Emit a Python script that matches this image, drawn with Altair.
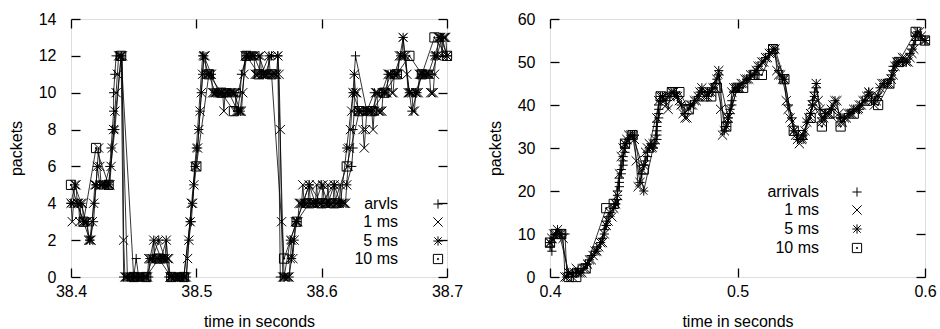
import altair as alt
import pandas as pd

FONT = "Liberation Sans"
FS = 16
TICK = 9

# ---------------- left panel data (time = 38.4 s + offset) ----------------
L_START = 38.4
left_1ms = [
    4, 3, 4, 5, 5, 4, 4, 3, 4, 4, 3,
    3, 3, 3, 2, 2, 2,
    3, 4, 5,
    5, 6, 7, 6, 5,
    5, 5, 5, 5, 5, 5, 5, 6, 7,
    8, 9, 10, 11, 12, 12, 12, 12,
    2,
    0, 0, 0, 0, 0, 0, 0, 0, 0, 0, 0, 0, 0, 0, 0, 0, 0, 0, 0,
    1, 1, 1, 1, 2, 1, 1, 1, 1, 1, 1, 1, 1, 1, 2, 1, 1,
    0, 0, 0, 0, 0, 0, 0, 0, 0, 0, 0, 0, 0, 0,
    1, 2, 3, 4, 4, 5, 6, 6, 7, 8, 9, 10, 11, 12, 12,
    11, 11, 11, 11, 11,
    10, 10, 10, 10, 10, 10, 10, 10, 10, 9, 10, 10, 10, 10, 10, 10, 10, 10, 10,
    9, 9, 9, 9, 9,
    10, 11,
    12, 12, 12, 12, 12, 12, 12, 12,
    11, 11, 11, 11, 12, 11, 11, 11, 11, 11, 11, 12, 11, 11, 11, 11, 11, 11, 12,
    11, 8, 3,
    0, 0, 0, 0, 0, 0,
    1, 2, 1, 2,
    3, 3, 3,
    4, 4, 4, 5, 4, 4, 4, 4, 5, 4, 4, 4, 4, 4, 5, 4, 4, 4, 4, 5,
    4, 4, 4, 5, 4, 4, 4, 4, 5, 4, 4, 4, 4, 5, 4, 4, 4, 4,
    5, 6, 7, 8, 9, 10, 11, 10, 10, 9, 9,
    9, 9, 8, 7, 8, 9, 9, 9, 9, 9, 8,
    9, 10, 10, 9,
    9, 9, 9, 10, 10,
    10, 10, 11, 11, 11, 10,
    10, 11, 11, 11, 11, 12,
    12, 12, 13, 12,
    12, 11, 10, 10,
    10, 10, 9, 9, 10, 10,
    10, 11, 11, 11, 11, 11, 11,
    11, 11, 11, 10, 10, 10, 11,
    12, 12, 13, 13, 13, 12,
    13, 13, 13, 12,
]
left_5ms = [4, 4, 3, 2, 5, 5, 5, 8, 12, 0,
            0, 0, 0, 1, 2, 1, 0, 0, 0, 3,
            7, 12, 11, 10, 10, 10, 10, 9, 12, 12,
            12, 11, 12, 12, 0, 2, 3, 4, 5, 4,
            5, 4, 5, 4, 7, 10, 9, 9, 9, 10,
            10, 11, 11, 13, 10, 10, 11, 11, 12, 13,
            12]
left_10ms = [5, 3, 7, 5, 12, 0, 0, 1, 0, 0,
             6, 11, 10, 9, 12, 11, 11, 1, 3, 4,
             4, 4, 6, 9, 9, 10, 11, 12, 11, 13,
             12]
# arrivals: (milliseconds after 38.4 s, packets)
left_arrivals = [
    (0, 4), (3, 5), (8, 4), (12, 3), (15, 2), (18, 3), (19, 4), (20, 5), (21, 6),
    (23, 5), (27, 5), (31, 6), (32, 7), (33, 8), (34, 9), (34, 10), (35, 11),
    (36, 12), (40, 12), (42, 0), (50, 0),
    (52, 1), (54, 0), (62, 0), (63, 1), (66, 2), (72, 1), (76, 2), (78, 0), (92, 0),
    (94, 2), (96, 3), (97, 4), (98, 5), (99, 6), (101, 7), (102, 8), (103, 9),
    (104, 10), (105, 11), (106, 12),
    (112, 11), (118, 10), (126, 10), (133, 9), (135, 10), (136, 11), (140, 12),
    (146, 12), (152, 11), (158, 12), (165, 12), (167, 0), (174, 0),
    (176, 1), (178, 2), (180, 3), (185, 4), (190, 5), (200, 4), (210, 5), (220, 5),
    (224, 6), (225, 7), (225, 8), (226, 9), (226, 10), (226, 11), (227, 12),
    (236, 9), (242, 10), (248, 10), (253, 11), (258, 11), (263, 12), (266, 12),
    (272, 9), (276, 10), (280, 11), (288, 11), (292, 12), (296, 13), (300, 12),
]

# ---------------- right panel data (time = 0.4 s + offset) ----------------
R_START = 0.4
right_1ms = [
    8, 9, 10, 10, 11, 10, 10, 9,
    0, 0, 1, 1, 0, 1, 2, 1, 1, 1,
    2, 2, 3, 4, 4, 5, 6, 6, 7, 8, 8,
    10, 12, 13, 15, 14,
    16, 17, 19, 24,
    28, 30, 31,
    32, 33, 33, 33, 32,
    27, 21, 22, 25, 26,
    29, 30, 31, 30, 31, 32,
    37, 41,
    42, 42, 41, 40, 39,
    42, 43, 43, 42, 42, 41, 40,
    38, 37, 37,
    39, 40, 40, 41, 41,
    42, 43, 44, 43, 42, 42,
    43, 43, 44, 44,
    46, 48,
    39, 33, 34, 35, 37, 39,
    43, 44, 44,
    44, 44, 45, 45, 46,
    46, 46, 47, 47, 47,
    48, 49, 49, 50,
    50, 51, 51, 52, 52,
    53, 53,
    48, 47, 47, 46, 46,
    41, 39, 37, 36, 34, 33,
    32, 31, 32, 33, 34, 36,
    37, 38, 40, 42, 45,
    41, 39, 36,
    37, 38, 38, 38,
    39, 40, 41,
    41, 38, 36,
    36, 37, 37,
    38, 38, 38, 39,
    39, 39, 40,
    40, 41, 41,
    42, 43, 42,
    41, 40, 41, 42,
    44, 45, 45, 45, 45,
    45, 46, 47, 49,
    50, 50, 50, 51,
    51, 50, 50,
    51, 52, 53,
    56, 57, 57,
    56, 55, 55,
]
right_5ms = [8, 10, 1, 1, 3, 6, 12, 17, 31, 33,
             20, 30, 42, 43, 40, 40, 43, 43, 47, 37,
             44, 46, 48, 51, 53, 46, 34, 32, 40, 37,
             39, 37, 38, 39, 43, 42, 45, 50, 50, 56,
             55]
# (milliseconds after 0.4 s, packets)
right_10ms = [
    (0, 8), (3, 10), (6, 10), (10, 0), (14, 0), (19, 2), (30, 16), (34, 17),
    (40, 31), (44, 33), (50, 25), (59, 42), (65, 43), (69, 43), (74, 39),
    (82, 42), (86, 42), (89, 44), (94, 35), (100, 44), (103, 44), (109, 47),
    (113, 47), (119, 53), (125, 46), (130, 34), (134, 33), (139, 37), (145, 35),
    (149, 38), (155, 35), (162, 38), (169, 41), (175, 40), (181, 45), (186, 50),
    (195, 57), (200, 55),
]
right_arrivals = [
    (0, 7), (1, 6), (1, 8), (2, 9), (3, 10), (4, 11), (6, 10), (8, 10), (9, 0),
    (12, 1), (14, 1), (15, 2), (16, 1),
    (18, 2), (19, 3), (21, 4), (22, 5), (24, 6), (25, 7), (27, 8), (28, 9),
    (29, 10), (29, 11), (30, 12), (30, 13), (31, 14), (32, 15),
    (34, 16), (35, 17), (36, 18), (36, 19), (36, 20), (37, 21), (37, 22), (37, 23),
    (38, 24), (38, 25), (39, 26), (39, 27), (39, 28), (40, 29), (40, 30),
    (41, 31), (42, 32), (43, 33), (44, 33),
    (48, 22), (49, 24), (50, 26), (51, 27), (52, 28), (52, 29), (53, 30), (54, 31),
    (55, 30), (56, 31),
    (57, 32), (57, 33), (57, 34), (57, 35), (57, 36), (58, 37), (58, 38), (58, 39),
    (58, 40), (59, 41), (59, 42),
    (62, 41), (64, 42), (66, 43), (68, 42), (72, 38), (75, 40), (77, 41), (79, 42),
    (81, 44), (84, 43), (86, 44), (88, 45), (89, 46), (90, 48),
    (93, 34), (94, 35), (95, 36), (95, 37), (96, 38), (96, 39), (97, 40), (97, 41),
    (98, 43), (99, 44), (101, 44), (103, 45), (105, 46), (107, 47), (109, 47),
    (111, 49), (113, 50), (115, 51), (117, 52), (119, 53),
    (122, 48), (124, 46), (127, 40), (129, 37), (132, 32), (135, 33), (137, 36),
    (139, 38), (140, 40), (140, 41), (141, 42), (141, 43), (142, 44), (142, 45),
    (144, 39), (147, 38), (150, 39), (152, 41), (155, 37), (157, 37), (159, 38),
    (162, 39), (165, 40), (168, 41), (170, 43), (173, 41), (176, 44), (178, 45),
    (180, 45), (182, 46), (182, 47), (183, 48), (183, 49), (184, 49), (186, 50),
    (188, 50), (190, 50), (192, 52), (193, 53), (194, 54), (195, 55), (195, 56),
    (196, 57), (198, 56), (200, 55),
]

# ---------------- marker shapes (gnuplot style) ----------------
PLUS = "M-1,0L1,0M0,-1L0,1"
CROSS = "M-1,-1L1,1M-1,1L1,-1"
STAR = "M-1,0L1,0M0,-1L0,1M-0.8,-0.8L0.8,0.8M-0.8,0.8L0.8,-0.8"
BOX = "M-1,-1L1,-1L1,1L-1,1Z M-0.12,-0.12L0.12,-0.12L0.12,0.12L-0.12,0.12Z"
MSIZE = 85


def regular(start, step_ms, values):
    return pd.DataFrame({
        "t": [start + i * step_ms / 1000.0 for i in range(len(values))],
        "v": values,
        "idx": list(range(len(values))),
    })


def pairs(start, pts):
    return pd.DataFrame({
        "t": [start + ms / 1000.0 for ms, _ in pts],
        "v": [v for _, v in pts],
        "idx": list(range(len(pts))),
    })


def make_panel(series, xdom, xticks, ydom, yticks, w, h, labels, leg_tx, leg_sx, leg_ys):
    xs = alt.Scale(domain=xdom, nice=False, zero=False)
    ys = alt.Scale(domain=ydom, nice=False, zero=False)
    common = dict(offset=-TICK, tickSize=TICK, domain=False, grid=False,
                  tickColor="black", tickWidth=1.3, labelOverlap=False,
                  labelFlush=False, labelFont=FONT, labelFontSize=FS,
                  labelColor="black", titleFont=FONT, titleFontSize=FS,
                  titleFontWeight="normal", titleColor="black")
    ax_b = alt.Axis(orient="bottom", values=xticks, format=".1f", labelPadding=6,
                    title="time in seconds", titlePadding=14, **common)
    ax_l = alt.Axis(orient="left", values=yticks, format="d", labelPadding=15,
                    title="packets", titlePadding=14, **common)
    ax_t = alt.Axis(orient="top", values=xticks, labels=False, title="", **common)
    ax_r = alt.Axis(orient="right", values=yticks, labels=False, title="", **common)

    layers = []
    for k, (df, shape) in enumerate(series):
        if k == 0:
            xa, ya = ax_b, ax_l
        elif k == 1:
            xa, ya = ax_t, ax_r
        else:
            xa, ya = None, None
        base = alt.Chart(df)
        layers.append(base.mark_line(color="black", strokeWidth=0.8).encode(
            x=alt.X("t:Q", scale=xs, axis=xa),
            y=alt.Y("v:Q", scale=ys, axis=ya),
            order="idx:Q"))
        layers.append(base.mark_point(shape=shape, filled=False, color="black",
                                      strokeWidth=1, size=MSIZE, opacity=1).encode(
            x=alt.X("t:Q", scale=xs, axis=None),
            y=alt.Y("v:Q", scale=ys, axis=None)))
    # key
    shapes = [s for _, s in series]
    for lab, shp, yy in zip(labels, shapes, leg_ys):
        layers.append(alt.Chart(pd.DataFrame({"a": [0]})).mark_text(
            align="right", baseline="middle", font=FONT, fontSize=FS, color="black"
        ).encode(x=alt.value(leg_tx), y=alt.value(yy), text=alt.value(lab)))
        layers.append(alt.Chart(pd.DataFrame({"a": [0]})).mark_point(
            shape=shp, filled=False, color="black", strokeWidth=1, size=MSIZE, opacity=1
        ).encode(x=alt.value(leg_sx), y=alt.value(yy)))
    return alt.layer(*layers).resolve_axis(x="independent", y="independent").properties(
        width=w, height=h)


left = make_panel(
    [(pairs(L_START, left_arrivals), PLUS),
     (regular(L_START, 1, left_1ms), CROSS),
     (regular(L_START, 5, left_5ms), STAR),
     (regular(L_START, 10, left_10ms), BOX)],
    [38.4, 38.7], [38.4, 38.5, 38.6, 38.7], [0, 14], [0, 2, 4, 6, 8, 10, 12, 14],
    376, 258, ["arvls", "1 ms", "5 ms", "10 ms"], 327, 367, [185, 203, 222, 240])

right = make_panel(
    [(pairs(R_START, right_arrivals), PLUS),
     (regular(R_START, 1, right_1ms), CROSS),
     (regular(R_START, 5, right_5ms), STAR),
     (pairs(R_START, right_10ms), BOX)],
    [0.4, 0.6], [0.4, 0.5, 0.6], [0, 60], [0, 10, 20, 30, 40, 50, 60],
    375, 258, ["arrivals", "1 ms", "5 ms", "10 ms"], 269, 307, [173, 191, 210, 229])

chart = alt.hconcat(left, right, spacing=22).properties(
    padding={"left": 7, "top": 10, "right": 0, "bottom": 0}
).configure_view(stroke="black", strokeWidth=1.5).configure(background="white")

chart.save("out.html", embed_options={"renderer": "svg", "actions": False})
